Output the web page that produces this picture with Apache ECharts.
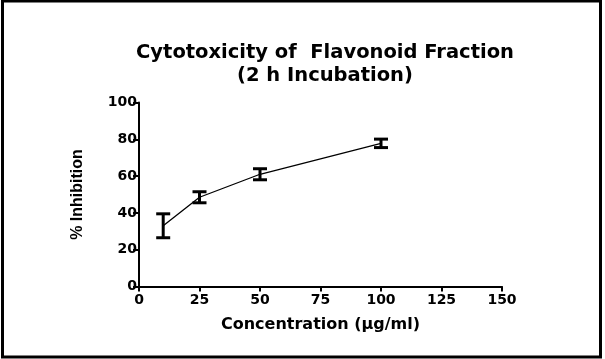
<!DOCTYPE html>
<html><head><meta charset="utf-8">
<script src="https://cdn.jsdelivr.net/npm/echarts@6/dist/echarts.min.js"></script>
<style>html,body{margin:0;padding:0;background:#fff}#c{width:605px;height:359px}</style>
</head><body><div id="c"></div>
<script>
const concentrations = [10, 25, 50, 100];
const inhibition = [33, 48.5, 61, 77.8];
const errors = [6.5, 3, 3, 2.3];
const xTicks = [0, 25, 50, 75, 100, 125, 150];
const yTicks = [0, 20, 40, 60, 80, 100];
const titleText = 'Cytotoxicity of  Flavonoid Fraction\n(2 h Incubation)';
const xName = 'Concentration (\u00b5g/ml)';
const yName = '% Inhibition';

const chart = echarts.init(document.getElementById('c'), null, {renderer: 'canvas'});
const lineData = concentrations.map((x, i) => [x, inhibition[i]]);
const errData = concentrations.map((x, i) => [x, inhibition[i] - errors[i], inhibition[i] + errors[i]]);
const tickFont = {fontFamily: 'DejaVu Sans', fontWeight: 'bold', fontSize: 14, color: '#000'};

chart.setOption({
  animation: false,
  backgroundColor: '#fff',
  title: {
    text: titleText, left: 320, top: 36, textAlign: 'center',
    textStyle: {fontFamily: 'DejaVu Sans', fontWeight: 'bold', fontSize: 19.5, lineHeight: 23, color: '#000'}
  },
  grid: {left: 139, right: 103, top: 102.5, bottom: 72.5, containLabel: false},
  xAxis: {
    type: 'value', min: 0, max: 150, interval: 25,
    name: xName, nameLocation: 'middle', nameGap: 30,
    nameTextStyle: {fontFamily: 'DejaVu Sans', fontWeight: 'bold', fontSize: 16, color: '#000'},
    axisLine: {onZero: false, lineStyle: {color: '#000', width: 2}},
    axisTick: {length: 5, lineStyle: {color: '#000', width: 2}},
    axisLabel: Object.assign({margin: 7, formatter: v => xTicks.includes(v) ? String(v) : ''}, tickFont),
    splitLine: {show: false}
  },
  yAxis: {
    type: 'value', min: 0, max: 100, interval: 20,
    name: yName, nameLocation: 'middle', nameGap: 53, nameRotate: 90,
    nameTextStyle: {fontFamily: 'Liberation Sans', fontWeight: 'bold', fontSize: 16, color: '#000'},
    axisLine: {show: true, lineStyle: {color: '#000', width: 2}},
    axisTick: {show: true, length: 6, lineStyle: {color: '#000', width: 2}},
    axisLabel: Object.assign({margin: 2, formatter: v => yTicks.includes(v) ? String(v) : ''}, tickFont),
    splitLine: {show: false}
  },
  series: [
    {
      type: 'line', data: lineData, symbol: 'none',
      lineStyle: {color: '#000', width: 1.3}, z: 3
    },
    {
      type: 'custom', data: errData, z: 4,
      renderItem: function (params, api) {
        const x = api.value(0);
        const lo = api.coord([x, api.value(1)]);
        const hi = api.coord([x, api.value(2)]);
        const hw = 7;
        const style = {stroke: '#000', lineWidth: 3, fill: null};
        return {
          type: 'group',
          children: [
            {type: 'line', shape: {x1: lo[0], y1: lo[1], x2: hi[0], y2: hi[1]}, style: style},
            {type: 'line', shape: {x1: lo[0] - hw, y1: lo[1], x2: lo[0] + hw, y2: lo[1]}, style: style},
            {type: 'line', shape: {x1: hi[0] - hw, y1: hi[1], x2: hi[0] + hw, y2: hi[1]}, style: style}
          ]
        };
      }
    }
  ],
  graphic: [
    {type: 'rect', shape: {x: 2.5, y: 1, width: 598, height: 356}, style: {fill: null, stroke: '#000', lineWidth: 3}, silent: true}
  ]
});
</script>
</body></html>
